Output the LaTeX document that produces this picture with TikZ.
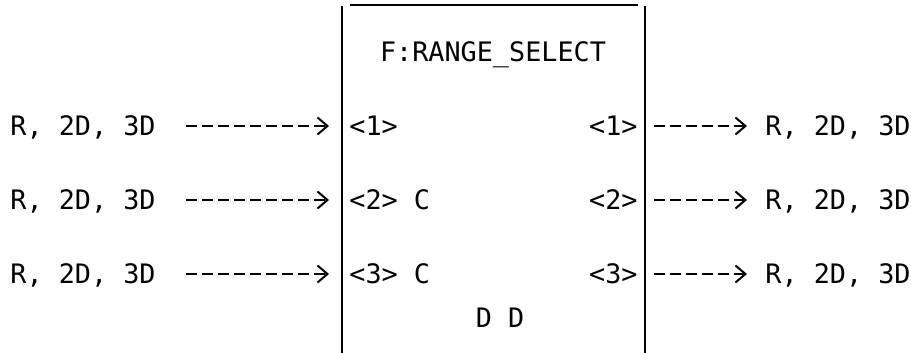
\documentclass[tikz,border=0pt]{standalone}
\usepackage{fontspec}
\setmonofont{DejaVu Sans Mono}
\usetikzlibrary{arrows.meta,positioning}

\begin{document}
\begin{tikzpicture}[x=0.5pt, y=-0.5pt,
          lbl/.style={font=\fontsize{13.4}{16}\selectfont\ttfamily, inner sep=0pt,
                      text height=9.8pt, text depth=0pt},
          flow/.style={-{Straight Barb[length=5pt,width=8.5pt,line width=1pt]},
                       line width=1pt, dash pattern=on 5.5pt off 2.5pt},
          wall/.style={line width=1.4pt},
          lid/.style={line width=1pt}
        ]
          \useasboundingbox (0,0) rectangle (911,353);
          % block outline, open at the bottom
          \coordinate (boxNW) at (342,6);
          \coordinate (boxNE) at (645,6);
          \draw[wall] (boxNW) -- (342,353);
          \draw[wall] (boxNE) -- (645,353);
          \draw[lid] (350,5) -- (638,5);
          \node[lbl] (title) at (493,52) {F:RANGE\_SELECT};
          \node[lbl] (mode)  at (500,318) {D D};
          % inputs
          \node[lbl, anchor=west] (srcA) at (10,126) {R, 2D, 3D};
          \node[lbl, anchor=west] (srcB) at (10,200) {R, 2D, 3D};
          \node[lbl, anchor=west] (srcC) at (10,274) {R, 2D, 3D};
          \node[lbl, anchor=west] (inA) at (349,126) {<1>};
          \node[lbl, anchor=west] (inB) at (349,200) {<2> C};
          \node[lbl, anchor=west] (inC) at (349,274) {<3> C};
          % outputs
          \node[lbl, anchor=east] (outA) at (638,126) {<1>};
          \node[lbl, anchor=east] (outB) at (638,200) {<2>};
          \node[lbl, anchor=east] (outC) at (638,274) {<3>};
          \node[lbl, anchor=west] (dstA) at (765,126) {R, 2D, 3D};
          \node[lbl, anchor=west] (dstB) at (765,200) {R, 2D, 3D};
          \node[lbl, anchor=west] (dstC) at (765,274) {R, 2D, 3D};
          \draw[flow, shorten <=15pt, shorten >=10pt] (srcA.east) -- (inA.west);
          \draw[flow, shorten <=15pt, shorten >=10pt] (srcB.east) -- (inB.west);
          \draw[flow, shorten <=15pt, shorten >=10pt] (srcC.east) -- (inC.west);
          \draw[flow, shorten <=8pt, shorten >=9pt] (outA.east) -- (dstA.west);
          \draw[flow, shorten <=8pt, shorten >=9pt] (outB.east) -- (dstB.west);
          \draw[flow, shorten <=8pt, shorten >=9pt] (outC.east) -- (dstC.west);
        \end{tikzpicture}
\end{document}
